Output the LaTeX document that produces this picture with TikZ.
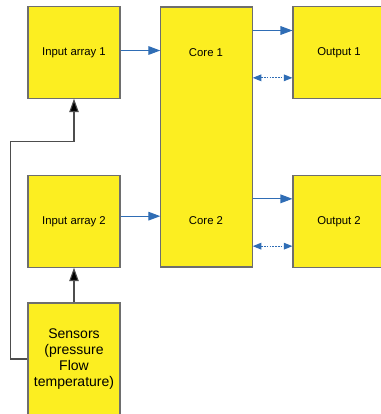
\documentclass[tikz,border=0pt]{standalone}
\usepackage{fontspec}
\setmainfont{Liberation Sans}
\usetikzlibrary{arrows.meta}
\definecolor{boxyellow}{HTML}{FCEE21}
\definecolor{boxgray}{HTML}{6E6E6E}
\definecolor{linkblue}{HTML}{2F6DB5}
\begin{document}
\begin{tikzpicture}[x=0.75pt, y=-0.75pt, line join=miter, >={Triangle[length=9pt, width=6.5pt]}]
	\tikzset{block/.style={draw=boxgray, fill=boxyellow, line width=0.8pt, inner sep=0pt, align=center, font=\fontsize{8.5}{10}\selectfont},
		link/.style={draw=linkblue, line width=0.8pt, ->},
		backlink/.style={draw=linkblue, line width=0.8pt, dash pattern=on 1.2pt off 0.9pt, {Triangle[length=6.5pt, width=5pt]}-{Triangle[length=6.5pt, width=5pt]}},
		wire/.style={draw=boxgray!70!black, line width=0.8pt, -{Triangle[length=10pt, width=7pt, fill=black]}}}
	\useasboundingbox (0,0) rectangle (381,414);
	\clip (0,0) rectangle (381,414);
	\node[block, minimum width=69pt, minimum height=68.5pt] (in1) at (74,52.5) {Input array 1};
	\node[block, minimum width=69pt, minimum height=68.5pt] (in2) at (74,221.5) {Input array 2};
	\node[block, minimum width=69pt, minimum height=84pt, font=\fontsize{10.5}{12}\selectfont] (sens) at (74,359) {Sensors\\(pressure\\Flow\\temperature)};
	\node[block, minimum width=68.5pt, minimum height=195pt] (core) at (206.5,137) {};
	\node[font=\fontsize{8.5}{10}\selectfont] (c1) at (206,53) {Core 1};
	\node[font=\fontsize{8.5}{10}\selectfont] (c2) at (206,221) {Core 2};
	\node[block, minimum width=69pt, minimum height=68.5pt] (out1) at (339,52.5) {Output 1};
	\node[block, minimum width=69pt, minimum height=68.5pt] (out2) at (339,221.5) {Output 2};
	% inputs to the cores
	\draw[link] ([yshift=1.5pt]in1.east) -- ([yshift=1.5pt]in1.east -| core.west);
	\draw[link] ([yshift=4pt]in2.east) -- ([yshift=4pt]in2.east -| core.west);
	% cores to outputs
	\draw[link] ([yshift=16.5pt]out1.west -| core.east) -- ([yshift=16.5pt]out1.west);
	\draw[backlink] ([yshift=-19pt]out1.west -| core.east) -- ([yshift=-19pt]out1.west);
	\draw[link] ([yshift=17pt]out2.west -| core.east) -- ([yshift=17pt]out2.west);
	\draw[backlink] ([yshift=-18.5pt]out2.west -| core.east) -- ([yshift=-18.5pt]out2.west);
	% sensors
	\draw[wire] (sens.north) -- (in2.south);
	\draw[wire] (sens.west) -- ++(-17,0) |- ([yshift=-32pt]in1.south) -- (in1.south);
\end{tikzpicture}
\end{document}
